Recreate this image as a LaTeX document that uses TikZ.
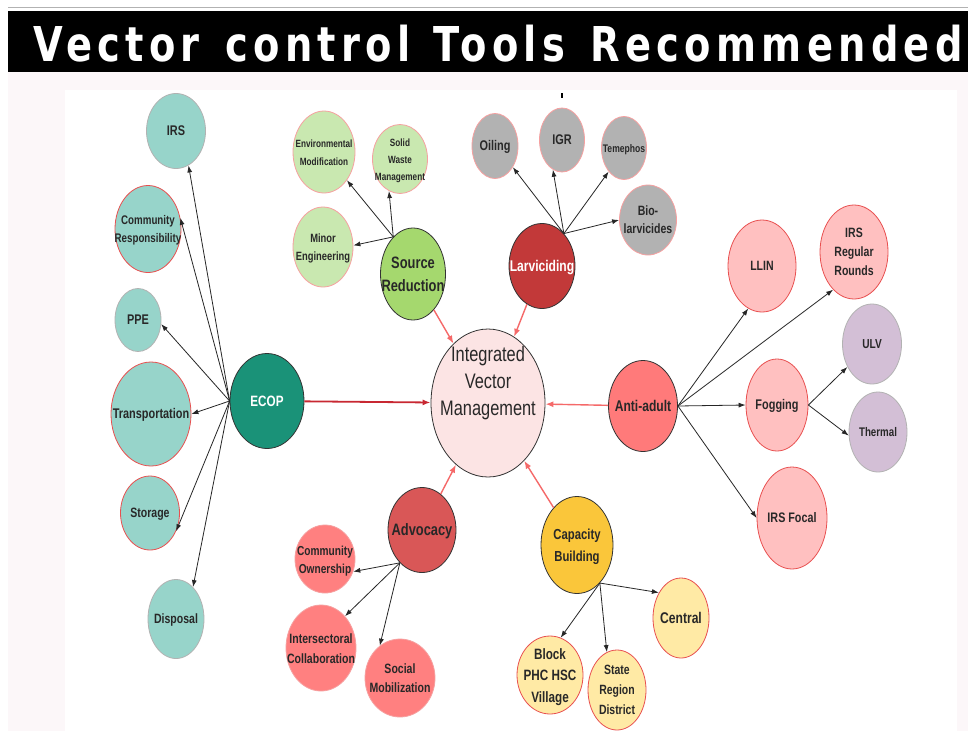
\documentclass[tikz,border=0pt]{standalone}
\usepackage{fontspec}
\setmainfont{Liberation Sans}[FakeStretch=0.78]
\newfontfamily\titlefont{DejaVu Sans}[FakeStretch=0.8,LetterSpace=11]
\usetikzlibrary{shapes.geometric, arrows.meta}

\definecolor{pagetint}{RGB}{252,247,249}
\definecolor{inkgray}{RGB}{40,40,40}
\definecolor{ecopgreen}{RGB}{26,146,120}
\definecolor{teallight}{RGB}{151,212,202}
\definecolor{ivmpink}{RGB}{252,228,228}
\definecolor{srcgreen}{RGB}{165,216,110}
\definecolor{srclight}{RGB}{201,232,176}
\definecolor{larvred}{RGB}{194,57,57}
\definecolor{larvgray}{RGB}{178,178,178}
\definecolor{adultred}{RGB}{255,122,122}
\definecolor{adultlight}{RGB}{255,192,192}
\definecolor{foglilac}{RGB}{211,191,214}
\definecolor{advored}{RGB}{217,87,87}
\definecolor{advolight}{RGB}{255,128,128}
\definecolor{capyellow}{RGB}{250,198,58}
\definecolor{caplight}{RGB}{255,234,165}
\definecolor{leafpink}{RGB}{246,160,160}
\definecolor{leafred}{RGB}{232,80,80}
\definecolor{ecopred}{RGB}{200,40,50}
\definecolor{feedred}{RGB}{245,105,105}

\newcommand{\fsz}[2]{\fontsize{#1}{#2}\selectfont}
% label of zero size, so the ellipse keeps the size it is given
\newcommand{\tx}[2][-0.34em]{\smash{\makebox[0pt]{\raisebox{#1}{\begin{tabular}{@{}c@{}}#2\end{tabular}}}}}

\begin{document}
\begin{tikzpicture}[x=1pt, y=-1pt,
        every node/.style={ellipse, inner sep=0pt, align=center, text=inkgray},
        wh/.style 2 args={minimum width=#1, minimum height=#2},
        hub/.style={draw=black!80, line width=0.8pt},
        leaf/.style={draw=leafpink, line width=0.8pt},
        feed/.style={draw=feedred, line width=1.4pt, -{Latex[length=8pt,width=6pt]}},
        fan/.style={draw=black!85, line width=0.8pt, -{Latex[length=7pt,width=5pt]}}
    ]
    \useasboundingbox (0,0) rectangle (968,731);
    \clip (0,0) rectangle (968,731);

    % page and title band
    \fill[white] (0,0) rectangle (968,731);
    \fill[pagetint] (8,72) rectangle (968,731);
    \fill[white] (65,90) rectangle (957,731);
    \draw[gray!60, line width=1pt] (8,7) -- (968,7);
    \fill[black] (8,11) rectangle (968,72);
    \node[shape=rectangle, anchor=base west, text=white,
        font=\titlefont\bfseries\fsz{48}{48}] (title) at (33,61)
        {Vector\hspace{7pt} control\hspace{5pt} Tools\hspace{7pt} Recommended};
    \fill[black] (561,93) rectangle (563,98);

    % centre
    \node[hub, fill=ivmpink, wh={114}{148}, font=\fsz{21}{27}] (ivm) at (488,403)
        {\tx[15pt]{Integrated\\Vector\\Management}};

    % ECOP
    \node[hub, fill=ecopgreen, text=white, wh={74}{95}, font=\bfseries\fsz{15}{18}] (ecop) at (267,401) {\tx{ECOP}};
    \node[leaf, draw=gray!60, fill=teallight, wh={59}{75}, font=\bfseries\fsz{14}{17}] (irs) at (176,131) {\tx{IRS}};
    \node[leaf, draw=leafred, fill=teallight, wh={66}{87}, font=\bfseries\fsz{12.5}{18}] (comresp) at (148,229) {\tx{Community\\Responsibility}};
    \node[leaf, draw=gray!60, fill=teallight, wh={46}{63}, font=\bfseries\fsz{14}{17}] (ppe) at (138,320) {\tx{PPE}};
    \node[leaf, draw=leafred, fill=teallight, wh={80}{104}, font=\bfseries\fsz{14}{17}] (transport) at (151,414) {\tx{Transportation}};
    \node[leaf, draw=leafred, fill=teallight, wh={59}{74}, font=\bfseries\fsz{13.5}{17}] (storage) at (150,513) {\tx{Storage}};
    \node[leaf, draw=gray!60, fill=teallight, wh={56}{79}, font=\bfseries\fsz{13.5}{17}] (disposal) at (176,619) {\tx{Disposal}};

    % Source Reduction
    \node[hub, fill=srcgreen, wh={65}{92}, font=\bfseries\fsz{16.5}{23}] (srcred) at (413,274) {\tx{Source\\Reduction}};
    \node[leaf, fill=srclight, wh={62}{82}, font=\bfseries\fsz{10.5}{18}] (envmod) at (324,152) {\tx{Environmental\\Modification}};
    \node[leaf, fill=srclight, wh={55}{69}, font=\bfseries\fsz{10.5}{17}] (waste) at (400,159) {\tx{Solid\\Waste\\Management}};
    \node[leaf, fill=srclight, wh={60}{80}, font=\bfseries\fsz{12}{18}] (minoreng) at (323,247) {\tx{Minor\\Engineering}};

    % Larviciding
    \node[hub, fill=larvred, text=white, wh={66}{85}, font=\bfseries\fsz{15.5}{18}] (larv) at (542,266) {\tx{Larviciding}};
    \node[leaf, fill=larvgray, wh={46}{65}, font=\bfseries\fsz{14}{17}] (oiling) at (495,146) {\tx{Oiling}};
    \node[leaf, fill=larvgray, wh={45}{64}, font=\bfseries\fsz{14}{17}] (igr) at (562,140) {\tx{IGR}};
    \node[leaf, fill=larvgray, wh={45}{63}, font=\bfseries\fsz{11}{15}] (temephos) at (624,148) {\tx{Temephos}};
    \node[leaf, fill=larvgray, wh={57}{70}, font=\bfseries\fsz{13.5}{18}] (bio) at (648,220) {\tx{Bio-\\larvicides}};

    % Anti-adult
    \node[hub, fill=adultred, wh={69}{91}, font=\bfseries\fsz{15.5}{18}] (anti) at (643,406) {\tx{Anti-adult}};
    \node[leaf, draw=leafred, fill=adultlight, wh={68}{92}, font=\bfseries\fsz{13.5}{17}] (llin) at (762,266) {\tx{LLIN}};
    \node[leaf, draw=leafred, fill=adultlight, wh={68}{94}, font=\bfseries\fsz{13.5}{19}] (irsrr) at (854,252) {\tx{IRS\\Regular\\Rounds}};
    \node[leaf, draw=leafred, fill=adultlight, wh={62}{92}, font=\bfseries\fsz{14}{17}] (fog) at (777,405) {\tx{Fogging}};
    \node[leaf, draw=gray!60, fill=foglilac, wh={59}{80}, font=\bfseries\fsz{13}{17}] (ulv) at (872,344) {\tx{ULV}};
    \node[leaf, draw=gray!60, fill=foglilac, wh={58}{80}, font=\bfseries\fsz{12.5}{17}] (thermal) at (878,432) {\tx{Thermal}};
    \node[leaf, draw=leafred, fill=adultlight, wh={70}{102}, font=\bfseries\fsz{13.8}{17}] (focal) at (792,518) {\tx{IRS Focal}};

    % Advocacy
    \node[hub, fill=advored, wh={68}{85}, font=\bfseries\fsz{16.5}{20}] (advo) at (422,530) {\tx{Advocacy}};
    \node[leaf, fill=advolight, wh={60}{68}, font=\bfseries\fsz{13}{18}] (comown) at (325,559) {\tx{Community\\Ownership}};
    \node[leaf, fill=advolight, wh={70}{86}, font=\bfseries\fsz{13.5}{20}] (intersect) at (321,648) {\tx{Intersectoral\\Collaboration}};
    \node[leaf, fill=advolight, wh={70}{78}, font=\bfseries\fsz{13.5}{19}] (socmob) at (400,678) {\tx{Social\\Mobilization}};

    % Capacity Building
    \node[hub, fill=capyellow, wh={72}{97}, font=\bfseries\fsz{14.5}{22}] (capb) at (577,545) {\tx{Capacity\\Building}};
    \node[leaf, draw=leafred, fill=caplight, wh={56}{80}, font=\bfseries\fsz{15.5}{18}] (central) at (681,618) {\tx{Central}};
    \node[leaf, draw=leafred, fill=caplight, wh={66}{78}, font=\bfseries\fsz{15}{21.5}] (block) at (550,675) {\tx{Block\\PHC HSC\\Village}};
    \node[leaf, draw=leafred, fill=caplight, wh={58}{80}, font=\bfseries\fsz{13.4}{20}] (state) at (617,690) {\tx{State\\Region\\District}};

    % into the centre
    \draw[feed, draw=ecopred, line width=1.8pt] (ecop) -- (ivm);
    \draw[feed] (srcred) -- (ivm);
    \draw[feed] (larv) -- (ivm);
    \draw[feed] (anti) -- (ivm);
    \draw[feed] (advo) -- (ivm);
    \draw[feed] (capb) -- (ivm);

    % ECOP fan
    \draw[fan] (ecop.west) -- (irs.-70);
    \draw[fan] (ecop.west) -- (comresp.19);
    \draw[fan] (ecop.west) -- (ppe.-10);
    \draw[fan] (ecop.west) -- (transport.east);
    \draw[fan] (ecop.west) -- (storage.-35);
    \draw[fan] (ecop.west) -- (disposal.62);

    % Source Reduction fan
    \draw[fan] (srcred.118) -- (envmod.-51);
    \draw[fan] (srcred.118) -- (waste.-109);
    \draw[fan] (srcred.118) -- (minoreng.3);

    % Larviciding fan
    \draw[fan] (larv.56) -- (oiling.-50);
    \draw[fan] (larv.56) -- (igr.-107);
    \draw[fan] (larv.56) -- (temephos.-123);
    \draw[fan] (larv.56) -- (bio.west);

    % Anti-adult fan
    \draw[fan] (anti.east) -- (llin.-108);
    \draw[fan] (anti.east) -- (irsrr.-119);
    \draw[fan] (anti.east) -- (fog.west);
    \draw[fan] (anti.east) -- (focal.west);
    \draw[fan] (fog.east) -- (ulv.-137);
    \draw[fan] (fog.east) -- (thermal.-173);

    % Advocacy fan
    \draw[fan] (advo.-124) -- (comown.-24);
    \draw[fan] (advo.-124) -- (intersect.53);
    \draw[fan] (advo.-124) -- (socmob.122);

    % Capacity Building fan
    \draw[fan] (capb.-59) -- (block.74);
    \draw[fan] (capb.-59) -- (state.105);
    \draw[fan] (capb.-59) -- (central.131);
\end{tikzpicture}
\end{document}
